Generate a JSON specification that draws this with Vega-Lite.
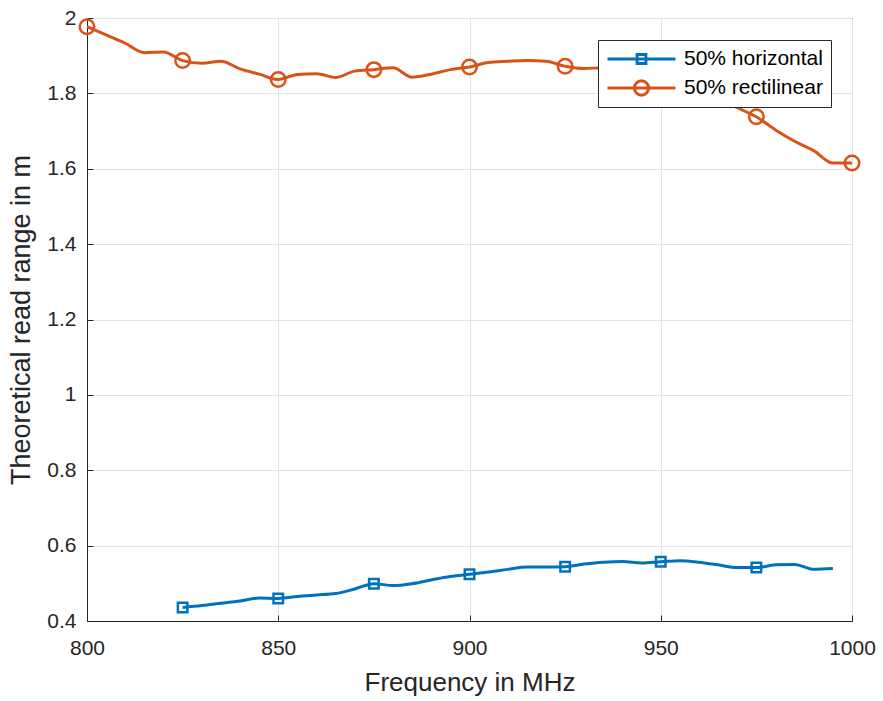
{
  "$schema": "https://vega.github.io/schema/vega-lite/v6.json",
  "width": 765,
  "height": 603,
  "autosize": {"type": "none"},
  "padding": {"left": 87, "top": 18, "right": 31, "bottom": 80},
  "background": "white",
  "config": {
    "font": "Liberation Sans",
    "view": {"stroke": "#262626", "strokeWidth": 1},
    "axis": {
      "domainColor": "#262626",
      "tickColor": "#262626",
      "tickSize": -6,
      "gridColor": "#e3e3e3",
      "gridWidth": 1,
      "labelColor": "#262626",
      "titleColor": "#262626",
      "labelFontSize": 21,
      "titleFontWeight": "normal",
      "labelFont": "Liberation Sans",
      "titleFont": "Liberation Sans"
    }
  },
  "data": {
    "values": [
      {"freq": 800, "range": 1.977, "series": "50% rectilinear"},
      {"freq": 805, "range": 1.955, "series": "50% rectilinear"},
      {"freq": 810, "range": 1.933, "series": "50% rectilinear"},
      {"freq": 815, "range": 1.908, "series": "50% rectilinear"},
      {"freq": 820, "range": 1.910, "series": "50% rectilinear"},
      {"freq": 825, "range": 1.887, "series": "50% rectilinear"},
      {"freq": 830, "range": 1.880, "series": "50% rectilinear"},
      {"freq": 835, "range": 1.885, "series": "50% rectilinear"},
      {"freq": 840, "range": 1.865, "series": "50% rectilinear"},
      {"freq": 845, "range": 1.851, "series": "50% rectilinear"},
      {"freq": 850, "range": 1.837, "series": "50% rectilinear"},
      {"freq": 855, "range": 1.850, "series": "50% rectilinear"},
      {"freq": 860, "range": 1.852, "series": "50% rectilinear"},
      {"freq": 865, "range": 1.842, "series": "50% rectilinear"},
      {"freq": 870, "range": 1.859, "series": "50% rectilinear"},
      {"freq": 875, "range": 1.863, "series": "50% rectilinear"},
      {"freq": 880, "range": 1.868, "series": "50% rectilinear"},
      {"freq": 885, "range": 1.843, "series": "50% rectilinear"},
      {"freq": 890, "range": 1.851, "series": "50% rectilinear"},
      {"freq": 895, "range": 1.863, "series": "50% rectilinear"},
      {"freq": 900, "range": 1.870, "series": "50% rectilinear"},
      {"freq": 905, "range": 1.882, "series": "50% rectilinear"},
      {"freq": 910, "range": 1.885, "series": "50% rectilinear"},
      {"freq": 915, "range": 1.887, "series": "50% rectilinear"},
      {"freq": 920, "range": 1.885, "series": "50% rectilinear"},
      {"freq": 925, "range": 1.872, "series": "50% rectilinear"},
      {"freq": 930, "range": 1.866, "series": "50% rectilinear"},
      {"freq": 935, "range": 1.868, "series": "50% rectilinear"},
      {"freq": 940, "range": 1.865, "series": "50% rectilinear"},
      {"freq": 945, "range": 1.855, "series": "50% rectilinear"},
      {"freq": 950, "range": 1.840, "series": "50% rectilinear"},
      {"freq": 955, "range": 1.820, "series": "50% rectilinear"},
      {"freq": 960, "range": 1.800, "series": "50% rectilinear"},
      {"freq": 965, "range": 1.785, "series": "50% rectilinear"},
      {"freq": 970, "range": 1.762, "series": "50% rectilinear"},
      {"freq": 975, "range": 1.738, "series": "50% rectilinear"},
      {"freq": 980, "range": 1.703, "series": "50% rectilinear"},
      {"freq": 985, "range": 1.673, "series": "50% rectilinear"},
      {"freq": 990, "range": 1.648, "series": "50% rectilinear"},
      {"freq": 995, "range": 1.615, "series": "50% rectilinear"},
      {"freq": 1000, "range": 1.615, "series": "50% rectilinear"},
      {"freq": 825, "range": 0.436, "series": "50% horizontal"},
      {"freq": 830, "range": 0.441, "series": "50% horizontal"},
      {"freq": 835, "range": 0.447, "series": "50% horizontal"},
      {"freq": 840, "range": 0.453, "series": "50% horizontal"},
      {"freq": 845, "range": 0.461, "series": "50% horizontal"},
      {"freq": 850, "range": 0.460, "series": "50% horizontal"},
      {"freq": 855, "range": 0.465, "series": "50% horizontal"},
      {"freq": 860, "range": 0.469, "series": "50% horizontal"},
      {"freq": 865, "range": 0.473, "series": "50% horizontal"},
      {"freq": 870, "range": 0.485, "series": "50% horizontal"},
      {"freq": 875, "range": 0.499, "series": "50% horizontal"},
      {"freq": 880, "range": 0.494, "series": "50% horizontal"},
      {"freq": 885, "range": 0.499, "series": "50% horizontal"},
      {"freq": 890, "range": 0.509, "series": "50% horizontal"},
      {"freq": 895, "range": 0.518, "series": "50% horizontal"},
      {"freq": 900, "range": 0.524, "series": "50% horizontal"},
      {"freq": 905, "range": 0.530, "series": "50% horizontal"},
      {"freq": 910, "range": 0.537, "series": "50% horizontal"},
      {"freq": 915, "range": 0.543, "series": "50% horizontal"},
      {"freq": 920, "range": 0.543, "series": "50% horizontal"},
      {"freq": 925, "range": 0.544, "series": "50% horizontal"},
      {"freq": 930, "range": 0.551, "series": "50% horizontal"},
      {"freq": 935, "range": 0.556, "series": "50% horizontal"},
      {"freq": 940, "range": 0.558, "series": "50% horizontal"},
      {"freq": 945, "range": 0.554, "series": "50% horizontal"},
      {"freq": 950, "range": 0.557, "series": "50% horizontal"},
      {"freq": 955, "range": 0.560, "series": "50% horizontal"},
      {"freq": 960, "range": 0.556, "series": "50% horizontal"},
      {"freq": 965, "range": 0.549, "series": "50% horizontal"},
      {"freq": 970, "range": 0.542, "series": "50% horizontal"},
      {"freq": 975, "range": 0.542, "series": "50% horizontal"},
      {"freq": 980, "range": 0.549, "series": "50% horizontal"},
      {"freq": 985, "range": 0.550, "series": "50% horizontal"},
      {"freq": 990, "range": 0.537, "series": "50% horizontal"},
      {"freq": 995, "range": 0.539, "series": "50% horizontal"}
    ]
  },
  "encoding": {
    "x": {
      "field": "freq", "type": "quantitative",
      "scale": {"domain": [800, 1000], "nice": false, "zero": false},
      "axis": {"title": "Frequency in MHz", "titleFontSize": 26, "values": [800, 850, 900, 950, 1000], "format": "d", "labelPadding": 22, "titlePadding": 11, "labelFlush": false}
    },
    "y": {
      "field": "range", "type": "quantitative",
      "scale": {"domain": [0.4, 2], "nice": false, "zero": false},
      "axis": {"title": "Theoretical read range in m", "titleFontSize": 27, "values": [0.4, 0.6, 0.8, 1, 1.2, 1.4, 1.6, 1.8, 2], "format": "~g", "labelPadding": 17, "titlePadding": 11, "labelFlush": false}
    },
    "color": {
      "field": "series", "type": "nominal",
      "scale": {"domain": ["50% horizontal", "50% rectilinear"], "range": ["#0072BD", "#D95319"]}
    }
  },
  "layer": [
    {
      "mark": {"type": "line", "strokeWidth": 3, "interpolate": "monotone"}
    },
    {
      "transform": [{"filter": "datum.freq % 25 === 0"}],
      "mark": {"type": "point", "filled": false, "strokeWidth": 2.5, "opacity": 1},
      "encoding": {
        "shape": {"condition": {"test": "datum.series === '50% horizontal'", "value": "square"}, "value": "circle"},
        "size": {"condition": {"test": "datum.series === '50% horizontal'", "value": 90}, "value": 210}
      }
    },
    {
      "transform": [{"filter": "datum.freq < 0"}],
      "mark": {"type": "point", "filled": false, "strokeWidth": 3, "opacity": 1, "size": 4624},
      "encoding": {
        "shape": {
          "field": "series", "type": "nominal",
          "scale": {"domain": ["50% horizontal", "50% rectilinear"], "range": ["M-1,0H1M-0.13,-0.13H0.13V0.13H-0.13Z", "M-1,0H1M0.21,0A0.21,0.21,0,1,1,-0.21,0A0.21,0.21,0,1,1,0.21,0"]},
          "legend": {
            "title": null,
            "orient": "none",
            "legendX": 511,
            "legendY": 22,
            "padding": 8,
            "strokeColor": "#262626",
            "fillColor": "white",
            "labelFontSize": 21,
            "labelColor": "#000000",
            "labelFont": "Liberation Sans",
            "labelOffset": 7,
            "symbolSize": 4624,
            "symbolStrokeWidth": 3,
            "clipHeight": 22,
            "rowPadding": 7,
            "cornerRadius": 0
          }
        }
      }
    }
  ]
}
